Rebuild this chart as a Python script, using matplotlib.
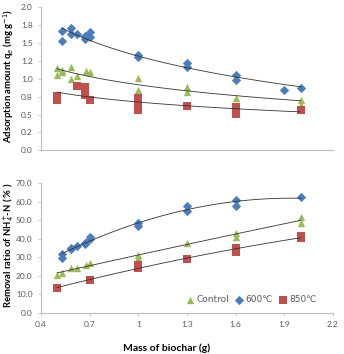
import numpy as np
import matplotlib
matplotlib.use("Agg")
import matplotlib.pyplot as plt

# ---- data ----
# top panel: adsorption amount qe (mg/g)
top_600_x = [0.53, 0.53, 0.585, 0.585, 0.625, 0.67, 0.67, 0.70, 0.70, 1.0, 1.0, 1.3, 1.3, 1.6, 1.6, 1.9, 2.0]
top_600_y = [1.67, 1.53, 1.71, 1.63, 1.62, 1.60, 1.55, 1.66, 1.59, 1.33, 1.30, 1.22, 1.17, 1.06, 0.99, 0.84, 0.87]
top_ctl_x = [0.5, 0.5, 0.53, 0.53, 0.585, 0.585, 0.625, 0.68, 0.70, 1.0, 1.0, 1.3, 1.3, 1.6, 2.0, 2.0]
top_ctl_y = [1.15, 1.05, 1.13, 1.10, 1.17, 1.00, 1.04, 1.11, 1.10, 1.01, 0.85, 0.88, 0.82, 0.73, 0.71, 0.64]
top_850_x = [0.5, 0.5, 0.625, 0.67, 0.67, 0.70, 1.0, 1.0, 1.0, 1.3, 1.6, 1.6, 2.0]
top_850_y = [0.76, 0.71, 0.90, 0.88, 0.78, 0.70, 0.73, 0.68, 0.56, 0.62, 0.60, 0.51, 0.57]

# bottom panel: removal ratio of NH4+-N (%)
bot_600_x = [0.53, 0.53, 0.585, 0.585, 0.625, 0.67, 0.67, 0.70, 0.70, 1.0, 1.0, 1.3, 1.3, 1.6, 1.6, 2.0]
bot_600_y = [31.8, 29.4, 35.2, 34.3, 36.1, 37.9, 37.0, 41.1, 40.0, 48.4, 46.9, 57.9, 55.0, 61.2, 58.0, 62.5]
bot_ctl_x = [0.5, 0.53, 0.585, 0.625, 0.68, 0.70, 1.0, 1.0, 1.3, 1.6, 1.6, 2.0, 2.0]
bot_ctl_y = [20.4, 21.3, 24.0, 24.0, 25.8, 27.1, 31.2, 29.8, 37.9, 43.2, 41.1, 52.0, 48.4]
bot_850_x = [0.5, 0.70, 1.0, 1.0, 1.3, 1.6, 1.6, 2.0, 2.0]
bot_850_y = [13.2, 17.7, 25.6, 24.2, 29.1, 34.9, 33.0, 41.5, 40.3]

x_ticks = [0.4, 0.7, 1.0, 1.3, 1.6, 1.9, 2.2]
x_ticklabels = ["0.4", "0.7", "1", "1.3", "1.6", "1.9", "2.2"]
top_yticks = np.arange(0, 2.01, 0.25)
bot_yticks = np.arange(0, 70.1, 10)

GREEN = "#9BBB59"
BLUE = "#4A7EBB"
RED = "#C0504D"
GREY = "#595959"
FONT = ["Lato", "DejaVu Sans"]

plt.rcParams["font.family"] = FONT


def log_fit(x, y):
    # Excel-style logarithmic trendline: y = a + b ln(x)
    x = np.asarray(x); y = np.asarray(y)
    b, a = np.polyfit(np.log(x), y, 1)
    xs = np.linspace(x.min(), x.max(), 100)
    return xs, a + b * np.log(xs)


def poly_fit(x, y, deg=2):
    x = np.asarray(x); y = np.asarray(y)
    c = np.polyfit(x, y, deg)
    xs = np.linspace(x.min(), x.max(), 100)
    return xs, np.polyval(c, xs)


def style_axes(ax):
    for s in ["top", "right"]:
        ax.spines[s].set_visible(False)
    for s in ["left", "bottom"]:
        ax.spines[s].set_color("#BFBFBF")
        ax.spines[s].set_linewidth(0.8)
    ax.tick_params(colors="#BFBFBF", labelcolor=GREY, labelsize=6, length=2.5, width=0.6)
    ax.set_xlim(0.4, 2.2)


fig = plt.figure(figsize=(3.44, 3.54), dpi=100)
ax1 = fig.add_axes([0.119, 0.5754, 0.849, 0.404])
ax2 = fig.add_axes([0.119, 0.1167, 0.849, 0.365])

ms = 28
# ── top panel ─────────────────────────────
for x, y, c, m in [
    (top_600_x, top_600_y, BLUE, "D"),
    (top_ctl_x, top_ctl_y, GREEN, "^"),
    (top_850_x, top_850_y, RED, "s"),
]:
    ax1.scatter(x, y, s=ms if m != "D" else ms * 0.8, marker=m, color=c, linewidths=0, zorder=2)
    xs, ys = log_fit(x, y)
    ax1.plot(xs, ys, color="#333333", lw=0.6, zorder=3)

style_axes(ax1)
ax1.set_ylim(0, 2.0)
ax1.set_yticks(top_yticks)
ax1.set_yticklabels([f"{v:.1f}" for v in top_yticks])
ax1.set_xticks([])

# ── bottom panel ──────────────────────────
handles = []
for x, y, c, m, lab in [
    (bot_ctl_x, bot_ctl_y, GREEN, "^", "Control"),
    (bot_600_x, bot_600_y, BLUE, "D", "600\u2103"),
    (bot_850_x, bot_850_y, RED, "s", "850\u2103"),
]:
    h = ax2.scatter(x, y, s=ms if m != "D" else ms * 0.8, marker=m, color=c, linewidths=0, zorder=2, label=lab)
    handles.append(h)
    xs, ys = poly_fit(x, y, 2)
    ax2.plot(xs, ys, color="#333333", lw=0.6, zorder=3)

style_axes(ax2)
ax2.set_ylim(0, 70)
ax2.set_yticks(bot_yticks)
ax2.set_yticklabels([f"{v:.1f}" for v in bot_yticks])
ax2.set_xticks(x_ticks)
ax2.set_xticklabels(x_ticklabels)

leg = ax2.legend(handles=handles, loc="center", bbox_to_anchor=(0.72, 0.10), ncol=3,
                 frameon=False, handletextpad=0.2, columnspacing=0.6,
                 handlelength=1.0, borderpad=0.1, prop={"family": ["DejaVu Sans"], "size": 6.5})
for t in leg.get_texts():
    t.set_color(GREY)

fig.text(0.025, 1 - 76 / 354, "Adsorption amount q$_e$ (mg g$^{-1}$)", rotation=90,
         ha="center", va="center", fontsize=6.8, fontweight="bold")
fig.text(0.025, 1 - 245 / 354, "Removal ratio of NH$_4^{+}$-N ( % )", rotation=90,
         ha="center", va="center", fontsize=6.8, fontweight="bold")
fig.text(167 / 344, 1 - 348 / 354, "Mass of biochar (g)", ha="center", va="center",
         fontsize=7.5, fontweight="bold")

fig.savefig("out.png", dpi=100)
